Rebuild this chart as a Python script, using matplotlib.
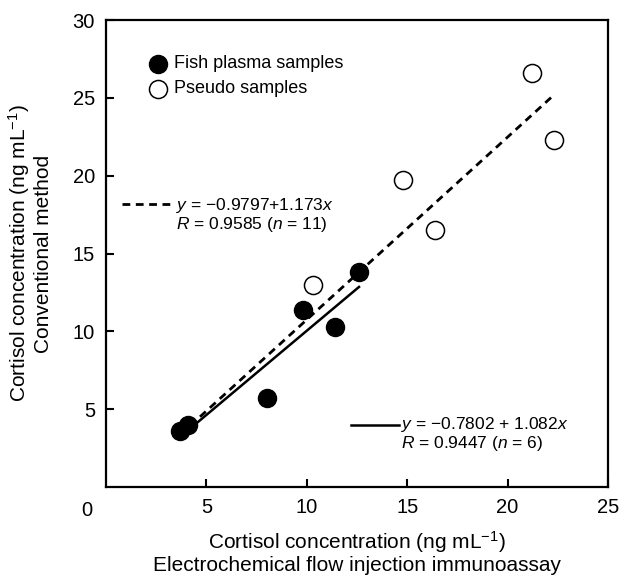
import numpy as np
import matplotlib
matplotlib.use("Agg")
import matplotlib.pyplot as plt

plt.rcParams['font.family'] = ['Liberation Sans', 'DejaVu Sans']
plt.rcParams['mathtext.fontset'] = 'custom'
plt.rcParams['mathtext.rm'] = 'Liberation Sans'
plt.rcParams['mathtext.it'] = 'Liberation Sans:italic'

# data
fish_x = [3.7, 4.1, 8.0, 9.8, 11.4, 12.6]
fish_y = [3.6, 4.0, 5.7, 11.4, 10.3, 13.8]
pseudo_x = [10.3, 14.8, 16.4, 21.2, 22.3]
pseudo_y = [13.0, 19.7, 16.5, 26.6, 22.3]

# regression fits (intercept, slope)
fit_all = (-0.9797, 1.173)
fit_fish = (-0.7802, 1.082)

x_ticks = [5, 10, 15, 20, 25]
y_ticks = [5, 10, 15, 20, 25, 30]

fig = plt.figure(figsize=(6.22, 5.75), dpi=100)
ax = fig.add_axes([0.1704, 0.153, 0.8071, 0.8122])

dash = (0, (2.8, 2.0))

# regression lines
xa = np.array([min(fish_x), max(pseudo_x)])
ax.plot(xa, fit_all[0] + fit_all[1] * xa, color='black', lw=2.0,
        linestyle=dash, zorder=2)
xf = np.array([min(fish_x), max(fish_x)])
ax.plot(xf, fit_fish[0] + fit_fish[1] * xf, color='black', lw=1.8, zorder=2)

# samples
ax.plot(fish_x, fish_y, 'o', ms=13, mfc='black', mec='black', zorder=3)
ax.plot(pseudo_x, pseudo_y, 'o', ms=13, mfc='white', mec='black', mew=1.1, zorder=3)

ax.set_xlim(0, 25)
ax.set_ylim(0, 30)
ax.set_xticks(x_ticks)
ax.set_yticks(y_ticks)
ax.tick_params(direction='in', length=6, width=1.5, labelsize=14.5, pad=8)
for s in ax.spines.values():
    s.set_linewidth(1.6)
ax.text(-0.028, -0.03, '0', transform=ax.transAxes, fontsize=14.5,
        ha='right', va='top')

# legend (hand placed like the original)
ax.plot([2.6], [27.2], 'o', ms=13, mfc='black', mec='black')
ax.plot([2.6], [25.6], 'o', ms=13, mfc='white', mec='black', mew=1.1)
ax.text(3.4, 27.2, 'Fish plasma samples', fontsize=13, va='center')
ax.text(3.4, 25.6, 'Pseudo samples', fontsize=13, va='center')

# fit annotations
ax.plot([0.8, 3.2], [18.2, 18.2], color='black', lw=2.0, linestyle=dash)
ax.text(3.5, 17.45, '$y$ = −0.9797+1.173$x$\n$R$ = 0.9585 ($n$ = 11)',
        fontsize=12.5, va='center', linespacing=1.0)
ax.plot([12.2, 14.6], [4.0, 4.0], color='black', lw=1.8)
ax.text(14.7, 3.4, '$y$ = −0.7802 + 1.082$x$\n$R$ = 0.9447 ($n$ = 6)',
        fontsize=12.5, va='center', linespacing=1.0)

ax.set_xlabel('Cortisol concentration (ng mL$^{-1}$)\nElectrochemical flow injection immunoassay',
              fontsize=15, linespacing=1.1)
ax.xaxis.set_label_coords(0.5, -0.09)
ax.set_ylabel('Cortisol concentration (ng mL$^{-1}$)\nConventional method',
              fontsize=15, linespacing=1.1)
ax.yaxis.set_label_coords(-0.106, 0.50)

fig.savefig('out.png', dpi=100)
